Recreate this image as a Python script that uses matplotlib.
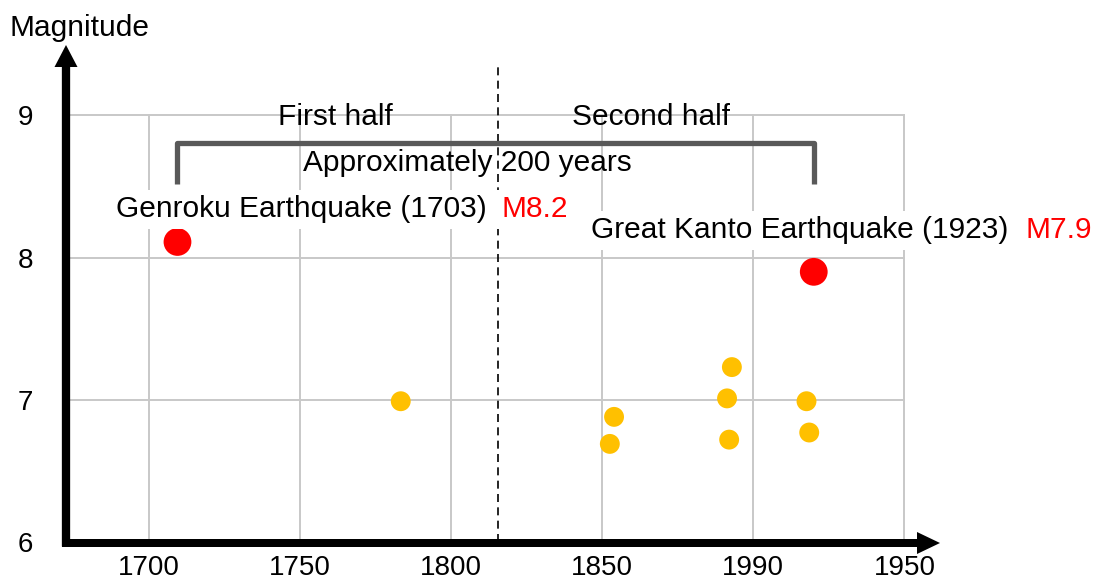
import matplotlib
matplotlib.use("Agg")
import matplotlib.pyplot as plt
from matplotlib.patches import FancyArrow

plt.rcParams['font.family'] = ['Liberation Sans', 'DejaVu Sans']

# ---------------- data ----------------
x_ticks = [1700, 1750, 1800, 1850, 1900, 1950]
x_tick_labels = ['1700', '1750', '1800', '1850', '1990', '1950']
y_ticks = [6, 7, 8, 9]
y_tick_labels = ['6', '7', '8', '9']

major_years = [1709.4, 1920.0]
major_mags = [8.11, 7.90]
major_names = ['Genroku Earthquake (1703)', 'Great Kanto Earthquake (1923)']
major_mag_labels = ['M8.2', 'M7.9']

other_years = [1783.3, 1853.9, 1852.5, 1892.9, 1891.3, 1892.0, 1917.6, 1918.5]
other_mags = [6.99, 6.88, 6.69, 7.23, 7.01, 6.72, 6.99, 6.77]

divider_year = 1815.4
half_labels = ['First half', 'Second half']
span_label = 'Approximately 200 years'

# ---------------- layout ----------------
W, H, DPI = 1096, 583, 100
AX_L, AX_R, AX_T, AX_B = 66, 905, 114, 542          # axes box in pixels
XLIM = (1672.5, 1950.2)
YLIM = (6.0, 9.01)


def fx(p):
    return XLIM[0] + (p - AX_L) * (XLIM[1] - XLIM[0]) / (AX_R - AX_L)


def fy(p):
    return YLIM[0] + (AX_B - p) * (YLIM[1] - YLIM[0]) / (AX_B - AX_T)


XU = (XLIM[1] - XLIM[0]) / (AX_R - AX_L)   # data units per pixel (x)
YU = (YLIM[1] - YLIM[0]) / (AX_B - AX_T)   # data units per pixel (y)

fig = plt.figure(figsize=(W / DPI, H / DPI), dpi=DPI)
ax = fig.add_axes([AX_L / W, (H - AX_B) / H, (AX_R - AX_L) / W, (AX_B - AX_T) / H])
ax.set_xlim(*XLIM)
ax.set_ylim(*YLIM)

for s in ax.spines.values():
    s.set_visible(False)

ax.set_xticks(x_ticks)
ax.set_xticklabels(x_tick_labels)
ax.set_yticks(y_ticks)
ax.set_yticklabels(y_tick_labels)
ax.tick_params(axis='both', length=0, labelsize=20, colors='black')
ax.tick_params(axis='x', pad=9.5)
ax.tick_params(axis='y', pad=23.5)
ax.grid(True, color='#c8c8c8', linewidth=1.4, zorder=0)
ax.set_axisbelow(True)

# axis arrows
ax.add_patch(FancyArrow(fx(AX_L), fy(546.5), 0, fy(45) - fy(546.5),
                        width=8.3 * XU, head_width=23 * XU, head_length=22 * YU,
                        length_includes_head=True, color='black', lw=0,
                        clip_on=False, zorder=6))
ax.add_patch(FancyArrow(fx(62), fy(543), fx(940) - fx(62), 0,
                        width=8 * YU, head_width=22 * YU, head_length=23 * XU,
                        length_includes_head=True, color='black', lw=0,
                        clip_on=False, zorder=6))

# divider (dashed)
ax.plot([divider_year, divider_year], [YLIM[0], fy(62)], color='black', lw=1.2,
        linestyle=(0, (4.8, 3.2)), clip_on=False, zorder=2)

# bracket
yb, yt = fy(184), fy(143)
ax.plot([major_years[0], major_years[0], major_years[1], major_years[1]],
        [yb, yt, yt, yb], color='#595959', lw=3.8, solid_joinstyle='round',
        solid_capstyle='butt', zorder=3)

# points
ax.scatter(other_years, other_mags, s=205, color='#ffc000', edgecolors='none', zorder=4)
ax.scatter(major_years, major_mags, s=400, color='#ff0000', edgecolors='none', zorder=4)

# texts
fs = 21.5
ax.text(fx(335), fy(125), half_labels[0], fontsize=fs, ha='center', va='baseline', zorder=5)
ax.text(fx(650.5), fy(125), half_labels[1], fontsize=fs, ha='center', va='baseline', zorder=5)
ax.text(fx(467), fy(170.7), span_label, fontsize=fs, ha='center', va='baseline', zorder=5)

box = dict(facecolor='white', edgecolor='none', pad=4)
name_pos = [(116, 217.5, 502), (591, 238.3, 1025)]
for name, mlab, (px0, pyb, pxm) in zip(major_names, major_mag_labels, name_pos):
    ax.text(fx(px0), fy(pyb), name, fontsize=fs, ha='left', va='baseline',
            bbox=box, zorder=5, clip_on=False)
    ax.text(fx(pxm), fy(pyb), mlab, fontsize=fs, ha='left', va='baseline',
            color='#ff0000', bbox=box, zorder=5, clip_on=False)

fig.text(9 / W, 1 - 36 / H, 'Magnitude', fontsize=fs, ha='left', va='baseline')

fig.savefig('out.png', dpi=DPI)
